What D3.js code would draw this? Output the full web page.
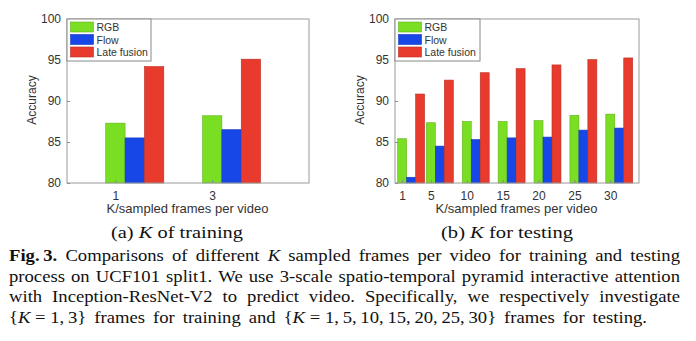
<!DOCTYPE html>
<html><head><meta charset="utf-8">
<script src="https://cdn.jsdelivr.net/npm/d3@7/dist/d3.min.js"></script>
<style>
html,body{margin:0;padding:0;background:#fff;}
svg{display:block;}
</style></head>
<body>
<svg id="chart" width="696" height="341"></svg>
<script>
// ---- data ----
const seriesNames = ["RGB", "Flow", "Late fusion"];
const seriesColors = ["#7ade22", "#1747e6", "#e83a2d"];
const yTicks = [80, 85, 90, 95, 100];

const trainK = [1, 3];
const trainRGB = [87.3, 88.2];
const trainFlow = [85.5, 86.5];
const trainFusion = [94.2, 95.1];

const testK = [1, 5, 10, 15, 20, 25, 30];
const testRGB = [85.4, 87.35, 87.5, 87.5, 87.6, 88.25, 88.4];
const testFlow = [80.7, 84.5, 85.3, 85.5, 85.6, 86.45, 86.7];
const testFusion = [90.85, 92.55, 93.45, 93.95, 94.4, 95.05, 95.25];

const xLabel = "K/sampled frames per video";
const yLabel = "Accuracy";

const svg = d3.select("#chart");

function panel(opts) {
  const {x0, x1, y0, y1, xMax, barW, ks, series} = opts;
  const g = svg.append("g");
  const x = d3.scaleLinear().domain([0, xMax]).range([x0, x1]);
  const y = d3.scaleLinear().domain([80, 100]).range([y1, y0]);

  series.forEach((vals, si) => {
    g.selectAll(null).data(ks.map((k, i) => ({k, v: vals[i]})))
      .enter().append("rect")
      .attr("x", d => x(d.k + (si - 0.5) * barW))
      .attr("width", x(barW) - x(0))
      .attr("y", d => y(d.v))
      .attr("height", d => y(80) - y(d.v))
      .attr("fill", seriesColors[si])
      .attr("stroke", d3.color(seriesColors[si]).darker(0.6))
      .attr("stroke-width", 0.6);
  });

  const yAxis = d3.axisLeft(y).tickValues(yTicks).tickSize(-3).tickPadding(6).tickFormat(d3.format("d"));
  const ya = g.append("g").attr("transform", `translate(${x0},0)`).call(yAxis);
  ya.select(".domain").remove();
  ya.selectAll("line").attr("stroke", "#888");
  ya.selectAll("text").attr("font-family", "Liberation Sans, Arial, sans-serif")
    .attr("font-size", 12).attr("fill", "#333");

  const xAxis = d3.axisBottom(x).tickValues(ks).tickSize(-3).tickPadding(8).tickFormat(d3.format("d"));
  const xa = g.append("g").attr("transform", `translate(0,${y1})`).call(xAxis);
  xa.select(".domain").remove();
  xa.selectAll("line").attr("stroke", "#888");
  xa.selectAll("text").attr("font-family", "Liberation Sans, Arial, sans-serif")
    .attr("font-size", 12).attr("fill", "#333");

  g.append("rect").attr("x", x0).attr("y", y0).attr("width", x1 - x0).attr("height", y1 - y0)
    .attr("fill", "none").attr("stroke", "#9a9a9a").attr("stroke-width", 1);

  g.append("text").attr("x", (x0 + x1) / 2 + opts.xLabDx).attr("y", y1 + 30)
    .attr("text-anchor", "middle").attr("font-family", "Liberation Sans, Arial, sans-serif")
    .attr("font-size", 13).attr("fill", "#333").text(xLabel);
  g.append("text").attr("transform", `translate(${opts.yLabX},${(y0 + y1) / 2 - 1}) rotate(-90)`)
    .attr("text-anchor", "middle").attr("font-family", "Liberation Sans, Arial, sans-serif")
    .attr("font-size", 12).attr("fill", "#333").text(yLabel);

  const lg = g.append("g").attr("transform", `translate(${x0},${y0})`);
  lg.append("rect").attr("x", 0).attr("y", 0).attr("width", opts.legW).attr("height", 42)
    .attr("fill", "#fff").attr("stroke", "#888").attr("stroke-width", 1);
  seriesNames.forEach((n, i) => {
    lg.append("rect").attr("x", 3.5).attr("y", 3 + i * 12.5).attr("width", 23).attr("height", 10)
      .attr("fill", seriesColors[i]).attr("stroke", d3.color(seriesColors[i]).darker(0.6)).attr("stroke-width", 0.6);
    lg.append("text").attr("x", 29.5).attr("y", 12 + i * 12.5)
      .attr("font-family", "Liberation Sans, Arial, sans-serif").attr("font-size", 10.5)
      .attr("fill", "#333").text(n);
  });
}

panel({x0: 67, x1: 309, y0: 19, y1: 183, xMax: 5, barW: 0.4, ks: trainK,
  series: [trainRGB, trainFlow, trainFusion], xLabDx: -0.5, yLabX: 36, legW: 84});
panel({x0: 395, x1: 639, y0: 19, y1: 183, xMax: 34, barW: 1.25, ks: testK,
  series: [testRGB, testFlow, testFusion], xLabDx: -0.5, yLabX: 364, legW: 85});

// ---- captions ----
const serif = "Liberation Serif, Times New Roman, serif";
const stretch = 1.13;
function subCap(cx, parts, width) {
  const t = svg.append("text").attr("x", cx).attr("y", 238).attr("text-anchor", "middle")
    .attr("font-family", serif).attr("font-size", 16.5).attr("fill", "#111")
    .attr("textLength", width).attr("lengthAdjust", "spacingAndGlyphs");
  parts.forEach(p => t.append("tspan").attr("font-style", p.i ? "italic" : null).text(p.t));
}
subCap(177, [{t: "(a) "}, {t: "K", i: 1}, {t: " of training"}], 132);
subCap(507, [{t: "(b) "}, {t: "K", i: 1}, {t: " for testing"}], 132);

const capLines = [
  [[{t: "Fig.\u20093.", b: 1}], [{t: "Comparisons"}], [{t: "of"}], [{t: "different"}], [{t: "K", i: 1}], [{t: "sampled"}], [{t: "frames"}], [{t: "per"}], [{t: "video"}], [{t: "for"}], [{t: "training"}], [{t: "and"}], [{t: "testing"}]],
  "process on UCF101 split1. We use 3-scale spatio-temporal pyramid interactive attention",
  "with Inception-ResNet-V2 to predict video. Specifically, we respectively investigate",
  [[{t: "{"}, {t: "K", i: 1}, {t: " = 1,\u20093}"}], [{t: "frames"}], [{t: "for"}], [{t: "training"}], [{t: "and"}], [{t: "{"}, {t: "K", i: 1}, {t: " = 1,\u20095,\u200910,\u200915,\u200920,\u200925,\u200930}"}], [{t: "frames"}], [{t: "for"}], [{t: "testing."}]]
];
const capBase = [261, 281.5, 302, 322.5];
const capRight = [680, 680, 680, 647];
const capLeft = 9;
capLines.forEach((ln, li) => {
  const words = typeof ln === "string" ? ln.split(" ").map(w => [{t: w}]) : ln;
  const g = svg.append("g");
  const els = words.map(w => {
    const t = g.append("text").attr("y", capBase[li]).attr("font-family", serif)
      .attr("font-size", 16.5).attr("fill", "#111");
    w.forEach(p => t.append("tspan").attr("font-weight", p.b ? "bold" : null)
      .attr("font-style", p.i ? "italic" : null).text(p.t));
    return t;
  });
  const widths = els.map(e => e.node().getComputedTextLength() * stretch);
  els.forEach((e, i) => e.attr("textLength", widths[i]).attr("lengthAdjust", "spacingAndGlyphs"));
  const total = d3.sum(widths);
  const gap = (capRight[li] - capLeft - total) / (els.length - 1);
  let cx = capLeft;
  els.forEach((e, i) => { e.attr("x", cx); cx += widths[i] + gap; });
});
</script>
</body></html>
